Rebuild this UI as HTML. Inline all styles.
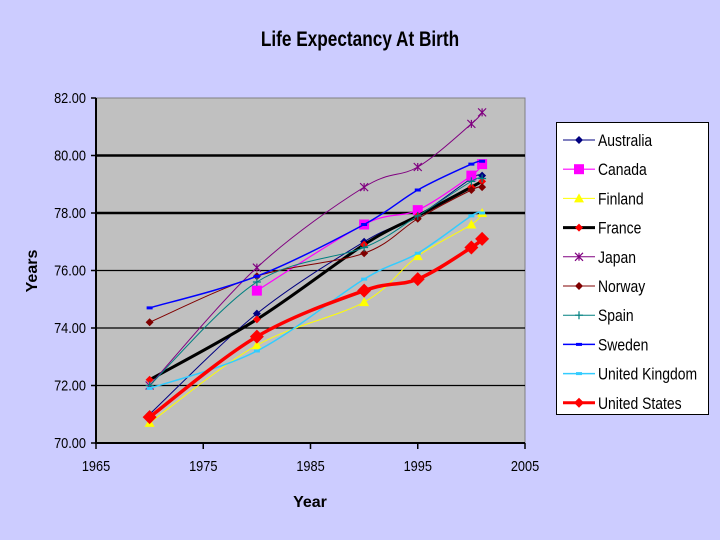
<!DOCTYPE html>
<html><head><meta charset="utf-8"><style>
html,body{margin:0;padding:0;background:#ccccff;}
svg{display:block;font-family:"Liberation Sans",Arial,sans-serif;}
</style></head><body>
<svg id="chart" width="720" height="540">
<rect x="0" y="0" width="720" height="540" fill="#ccccff"/>
<text x="360" y="46" text-anchor="middle" font-size="21" font-weight="bold" transform="translate(360,0) scale(0.82,1) translate(-360,0)">Life Expectancy At Birth</text>
<rect x="96" y="98" width="429" height="345" fill="#c0c0c0" stroke="#808080" stroke-width="1"/>
<g id="grid"></g>
<g id="axes"></g>
<g id="series"></g>
<text x="310" y="507" text-anchor="middle" font-size="16" font-weight="bold">Year</text>
<text x="37" y="271" text-anchor="middle" font-size="16" font-weight="bold" transform="rotate(-90,37,271)">Years</text>
<rect x="556.5" y="122.5" width="152" height="292" fill="#ffffff" stroke="#000" stroke-width="1"/>
<g id="legend"></g>
</svg>
<script>
const years = [1970, 1980, 1990, 1995, 2000, 2001];
const names = ["Australia","Canada","Finland","France","Japan","Norway","Spain","Sweden","United Kingdom","United States"];
const australia = [71.0, 74.5, 77.0, 77.9, 79.2, 79.3];
const canada = [null, 75.3, 77.6, 78.1, 79.3, 79.7];
const finland = [70.7, 73.4, 74.9, 76.5, 77.6, 78.0];
const france = [72.2, 74.3, 76.9, 77.9, 78.9, 79.1];
const japan = [72.0, 76.1, 78.9, 79.6, 81.1, 81.5];
const norway = [74.2, 75.8, 76.6, 77.8, 78.8, 78.9];
const spain = [72.0, 75.6, 76.8, 77.9, 79.1, 79.2];
const sweden = [74.7, 75.8, 77.6, 78.8, 79.7, 79.8];
const uk = [71.9, 73.2, 75.7, 76.6, 77.9, 78.0];
const us = [70.9, 73.7, 75.3, 75.7, 76.8, 77.1];
const yTicks = ["70.00","72.00","74.00","76.00","78.00","80.00","82.00"];
const xTicks = [1965, 1975, 1985, 1995, 2005];

const NS = "http://www.w3.org/2000/svg";
function X(v){ return 96 + (v - 1965) * (429 / 40); }
function Y(v){ return 443 - (v - 70) * (345 / 12); }
function mk(tag, attrs, parent){ const e = document.createElementNS(NS, tag); for (const k in attrs) e.setAttribute(k, attrs[k]); parent.appendChild(e); return e; }

const grid = document.getElementById('grid');
const axes = document.getElementById('axes');
yTicks.forEach(t => {
  const v = parseFloat(t), y = Y(v);
  if (v > 70 && v < 82) {
    const g = mk('line', {x1:96, x2:525, y1:y, y2:y, stroke:'#000', 'stroke-width': (v===78||v===80)?2.5:1.2}, grid);
    
    
  }
  mk('line', {x1:91, x2:96, y1:y, y2:y, stroke:'#000', 'stroke-width':1.5}, axes);
  const tx = mk('text', {x:86, y:y+5, 'text-anchor':'end', 'font-size':15, transform:`translate(86,0) scale(0.85,1) translate(-86,0)`}, axes);
  tx.textContent = t;
  
  
});
xTicks.forEach(t => {
  const x = X(t);
  mk('line', {x1:x, x2:x, y1:443, y2:449, stroke:'#000', 'stroke-width':1.5}, axes);
  const tx = mk('text', {x:x, y:471, 'text-anchor':'middle', 'font-size':15, transform:`translate(${x},0) scale(0.85,1) translate(${-x},0)`}, axes);
  tx.textContent = t;
  
  
});
mk('line', {x1:96, x2:96, y1:98, y2:444, stroke:'#000', 'stroke-width':2}, axes);
mk('line', {x1:95, x2:525, y1:443, y2:443, stroke:'#000', 'stroke-width':2}, axes);

const data = [australia, canada, finland, france, japan, norway, spain, sweden, uk, us];
const colors = ["#000080","#ff00ff","#ffff00","#000000","#800080","#800000","#008080","#0000ff","#33ccff","#ff0000"];
const widths = [1,1.2,1,3,1,1,1,1.5,1.5,3.5];
const markers = ["diamond","square","triangle","diamond","star","diamond","plus","dash","dash","diamond"];
const msize = [4,5,5,4,4,4,4,3,3,7];

function marker(parent, type, x, y, s, c){
  if (type==='diamond') return mk('polygon', {points:`${x},${y-s} ${x+s},${y} ${x},${y+s} ${x-s},${y}`, fill:c}, parent);
  if (type==='square') return mk('rect', {x:x-s, y:y-s, width:2*s, height:2*s, fill:c}, parent);
  if (type==='triangle') return mk('polygon', {points:`${x},${y-s} ${x+s},${y+s*0.8} ${x-s},${y+s*0.8}`, fill:c}, parent);
  if (type==='star') return mk('path', {d:`M${x-s},${y-s}L${x+s},${y+s}M${x+s},${y-s}L${x-s},${y+s}M${x},${y-s}L${x},${y+s}`, stroke:c, 'stroke-width':1.2, fill:'none'}, parent);
  if (type==='plus') return mk('path', {d:`M${x-s},${y}L${x+s},${y}M${x},${y-s}L${x},${y+s}`, stroke:c, 'stroke-width':1.2, fill:'none'}, parent);
  return mk('rect', {x:x-s, y:y-1.5, width:2*s, height:3, fill:c}, parent);
}

function smooth(p){
  let d = `M${p[0][0]},${p[0][1]}`;
  for (let i = 0; i < p.length - 1; i++) {
    const p0 = p[i-1] || p[i], p1 = p[i], p2 = p[i+1], p3 = p[i+2] || p2;
    const c1x = p1[0] + (p2[0]-p0[0])/6, c1y = p1[1] + (p2[1]-p0[1])/6;
    const c2x = p2[0] - (p3[0]-p1[0])/6, c2y = p2[1] - (p3[1]-p1[1])/6;
    d += `C${c1x},${c1y} ${c2x},${c2y} ${p2[0]},${p2[1]}`;
  }
  return d;
}

const sg = document.getElementById('series');
data.forEach((arr, i) => {
  const g = mk('g', {}, sg);
  
  
  const pts = [];
  arr.forEach((v, j) => { if (v !== null) pts.push([X(years[j]), Y(v)]); });
  mk('path', {d: smooth(pts), fill:'none', stroke:colors[i], 'stroke-width':widths[i], 'stroke-linejoin':'round'}, g);
  pts.forEach(p => {
    const m = marker(g, markers[i], p[0], p[1], msize[i], i===3 ? '#ff0000' : colors[i]);
    
    
  });
});

const lg = document.getElementById('legend');
names.forEach((n, i) => {
  const y = 140 + i * 29.2;
  const g = mk('g', {}, lg);
  
  
  mk('line', {x1:563, x2:595, y1:y, y2:y, stroke:colors[i], 'stroke-width':Math.min(widths[i],3)}, g);
  marker(g, markers[i], 579, y, Math.min(msize[i],5), i===3 ? '#ff0000' : colors[i]);
  const t = mk('text', {x:598, y:y+6, 'font-size':17, transform:`translate(598,0) scale(0.82,1) translate(-598,0)`}, g);
  t.textContent = n;
});
</script>
</body></html>
